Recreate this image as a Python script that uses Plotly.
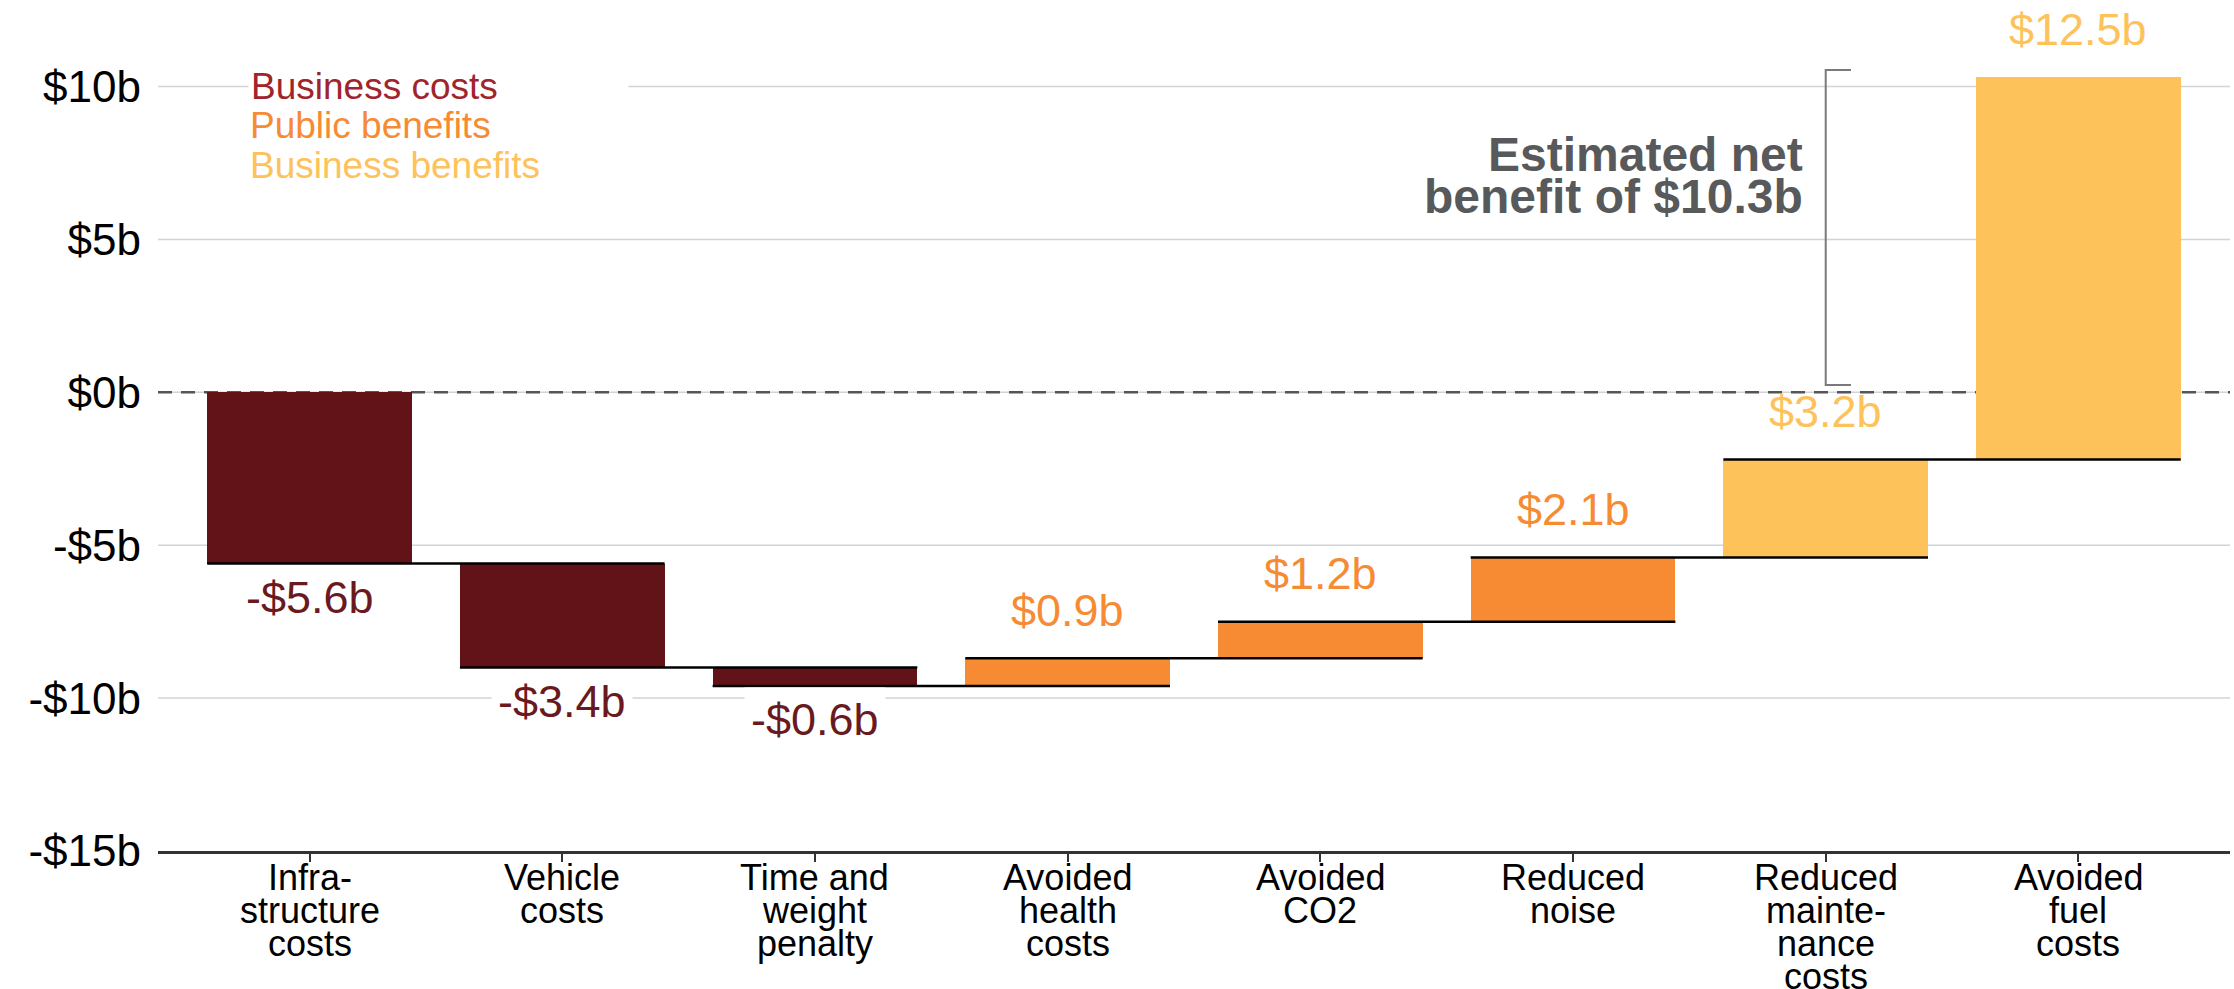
import plotly.graph_objects as go
import numpy as np

# ---------------- data ----------------
categories = ["Infra-<br>structure<br>costs", "Vehicle<br>costs", "Time and<br>weight<br>penalty",
              "Avoided<br>health<br>costs", "Avoided<br>CO2", "Reduced<br>noise",
              "Reduced<br>mainte-<br>nance<br>costs", "Avoided<br>fuel<br>costs"]
values = [-5.6, -3.4, -0.6, 0.9, 1.2, 2.1, 3.2, 12.5]
groups = ["Business costs", "Business costs", "Business costs",
          "Public benefits", "Public benefits", "Public benefits",
          "Business benefits", "Business benefits"]
value_labels = ["-$5.6b", "-$3.4b", "-$0.6b", "$0.9b", "$1.2b", "$2.1b", "$3.2b", "$12.5b"]
y_tickvals = [-15, -10, -5, 0, 5, 10]
y_ticktext = ["-$15b", "-$10b", "-$5b", "$0b", "$5b", "$10b"]
legend_names = ["Business costs", "Public benefits", "Business benefits"]
net_label = ["Estimated net", "benefit of $10.3b"]

# ---------------- style ----------------
FONT = "Liberation Sans, Arial, Helvetica, sans-serif"
bar_colors = {"Business costs": "#621317", "Public benefits": "#F68B34", "Business benefits": "#FEC25A"}
label_colors = {"Business costs": "#6A1A1F", "Public benefits": "#F68B34", "Business benefits": "#FEC25A"}
legend_colors = {"Business costs": "#A1232B", "Public benefits": "#F68B34", "Business benefits": "#FEC25A"}
BAR_W = 0.81
W, H = 2234, 989
ML, MR, MT, MB = 158, 4, 0, 137.5
PLOT_H = H - MT - MB
XR = [-0.6, 7.6]
YR = [-15, 12.83]

def py_to_paper(py):
    return 1 - (py - MT) / PLOT_H

x = np.arange(len(values))
vals = np.array(values)
ends = np.cumsum(vals)
starts = ends - vals
net = ends[-1]

fig = go.Figure()

# bars
fig.add_trace(go.Bar(
    x=x, y=vals, base=starts, width=BAR_W,
    marker=dict(color=[bar_colors[g] for g in groups], line=dict(width=0)),
    hoverinfo="skip", showlegend=False))

# connectors (spanning)
cx, cy = [], []
for i in range(len(values) - 1):
    cx += [x[i] - BAR_W / 2, x[i + 1] + BAR_W / 2, None]
    cy += [ends[i], ends[i], None]
fig.add_trace(go.Scatter(x=cx, y=cy, mode="lines",
                         line=dict(color="#000000", width=2.5),
                         hoverinfo="skip", showlegend=False))

# bracket for net benefit
BRACKET_LIFT = 0.24
bx = len(values) - 2
fig.add_trace(go.Scatter(
    x=[bx + 0.1, bx, bx, bx + 0.1],
    y=[net + BRACKET_LIFT, net + BRACKET_LIFT, 0 + BRACKET_LIFT, 0 + BRACKET_LIFT],
    mode="lines", line=dict(color="#7a7a7a", width=2),
    hoverinfo="skip", showlegend=False))

# gridlines (below traces), then the dashed zero line on top of them
for tv in y_tickvals:
    if tv == YR[0]:
        continue
    fig.add_shape(type="line", xref="paper", x0=0, x1=1, yref="y", y0=tv, y1=tv,
                  line=dict(color="#D2D3D6", width=1.5), layer="below")
fig.add_shape(type="line", xref="paper", x0=0, x1=1, yref="y", y0=0, y1=0,
              line=dict(color="#555555", width=2.5, dash="14px,9px"), layer="below")

annotations = []
# value labels
for i, (v, e, lab, g) in enumerate(zip(values, ends, value_labels, groups)):
    if v < 0:
        annotations.append(dict(x=i, y=e, xref="x", yref="y", text=lab, showarrow=False,
                                yanchor="middle", yshift=-34, bgcolor="white", borderpad=6,
                                font=dict(family=FONT, size=45, color=label_colors[g])))
    else:
        annotations.append(dict(x=i, y=e, xref="x", yref="y", text=lab, showarrow=False,
                                yanchor="middle", yshift=48,
                                font=dict(family=FONT, size=45, color=label_colors[g])))

# x category labels (one annotation per line for tight line spacing)
for i, cat in enumerate(categories):
    for k, line in enumerate(cat.split("<br>")):
        annotations.append(dict(x=i, y=0, xref="x", yref="paper", text=line, showarrow=False,
                                yanchor="middle", yshift=-(26 + 33 * k),
                                font=dict(family=FONT, size=36, color="#000000")))

# legend text
legend_centers = [86.4, 125.9, 165.4]
for k, name in enumerate(legend_names):
    a = dict(x=(248 - ML) / (W - ML - MR), y=py_to_paper(legend_centers[k]), xref="paper", yref="paper",
             text=name, showarrow=False, xanchor="left", yanchor="middle", align="left",
             font=dict(family=FONT, size=37, color=legend_colors[name]))
    if k == 0:
        a.update(bgcolor="white", width=375, borderpad=2)
    annotations.append(a)

# net benefit text
for k, (line, pyc) in enumerate(zip(net_label, [154.4, 196.7])):
    annotations.append(dict(x=bx, y=py_to_paper(pyc), xref="x", yref="paper",
                            text="<b>" + line + "</b>", showarrow=False,
                            xanchor="right", yanchor="middle", xshift=-21,
                            font=dict(family=FONT, size=48, color="#58595B")))

fig.update_layout(
    width=W, height=H,
    margin=dict(l=ML, r=MR, t=MT, b=MB, pad=0),
    plot_bgcolor="white", paper_bgcolor="white",
    showlegend=False,
    bargap=0,
    annotations=annotations,
    font=dict(family=FONT),
    xaxis=dict(range=XR, tickvals=list(x), showticklabels=False,
               ticks="outside", ticklen=8, tickwidth=1.5, tickcolor="#333333",
               showline=True, linecolor="#333333", linewidth=2.5,
               showgrid=False, zeroline=False, fixedrange=True),
    yaxis=dict(range=YR, tickvals=y_tickvals, ticktext=y_ticktext,
               tickfont=dict(family=FONT, size=44, color="#000000"),
               ticks="", ticklabelstandoff=16,
               showgrid=False, zeroline=False, showline=False, fixedrange=True),
)

fig.write_html("out.html")
